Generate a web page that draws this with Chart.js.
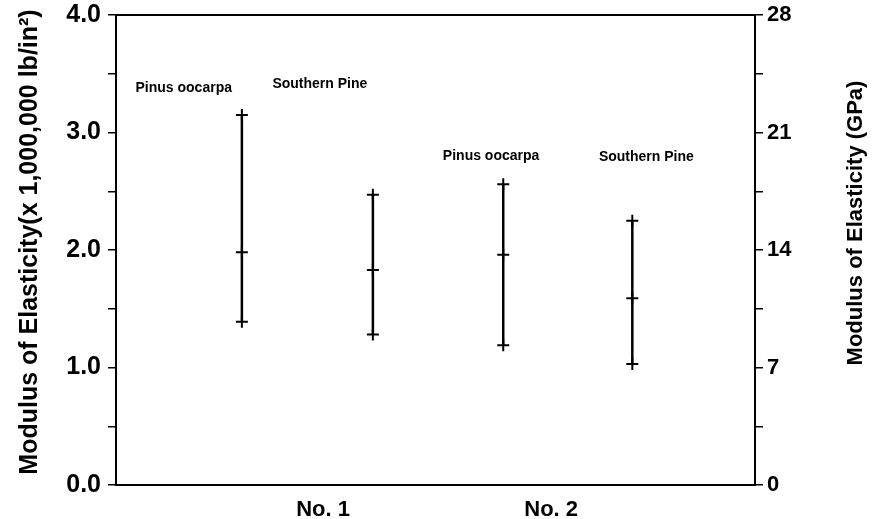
<!DOCTYPE html>
<html>
<head>
<meta charset="utf-8">
<script src="https://cdn.jsdelivr.net/npm/chart.js@4.4.1/dist/chart.umd.min.js"></script>
<style>
  html, body { margin: 0; padding: 0; background: #fff; }
  #wrap { width: 888px; height: 519px; }
</style>
</head>
<body>
<div id="wrap"><canvas id="moeCanvas" width="888" height="519"></canvas></div>
<script>
// values (left axis, x 1,000,000 lb/in^2)
const barX = [1.97, 4.02, 6.06, 8.08];
const barHigh = [3.15, 2.47, 2.56, 2.25];
const barMid = [1.98, 1.83, 1.96, 1.59];
const barLow = [1.39, 1.28, 1.19, 1.03];

const speciesNames = ["Pinus oocarpa", "Southern Pine", "Pinus oocarpa", "Southern Pine"];
const nameX = [1.06, 3.19, 5.87, 8.30];
const nameY = [3.38, 3.41, 2.80, 2.79];

const gradeLabels = ["No. 1", "No. 2"];
const gradeX = [3.24, 6.81];

const leftTitle = "Modulus of Elasticity(x 1,000,000 lb/in\u00B2)";
const rightTitle = "Modulus of Elasticity (GPa)";

const FONT = "'Liberation Sans', Arial, Helvetica, sans-serif";

const datasets = barX.map((x, i) => ({
    type: "line",
    data: [
        { x: x, y: barLow[i] },
        { x: x, y: barMid[i] },
        { x: x, y: barHigh[i] },
    ],
    showLine: true,
    borderColor: "#000",
    borderWidth: 2.5,
    pointStyle: "cross",
    pointRadius: 6,
    pointBorderWidth: 2,
    pointBorderColor: "#000",
    pointBackgroundColor: "#000",
    yAxisID: "y",
}));

// text and frame drawn on top of the chart
const decorPlugin = {
    id: "decor",
    afterDraw(chart) {
        const c = chart.ctx;
        const area = chart.chartArea;
        const xs = chart.scales.x;
        const ys = chart.scales.y;

        c.save();
        c.strokeStyle = "#000";
        c.lineWidth = 2;
        c.beginPath();
        c.moveTo(area.left, area.top);
        c.lineTo(area.right, area.top);
        c.stroke();

        c.fillStyle = "#000";
        c.font = "bold 14px " + FONT;
        c.textAlign = "center";
        c.textBaseline = "middle";
        speciesNames.forEach((name, i) => {
            c.fillText(name, xs.getPixelForValue(nameX[i]), ys.getPixelForValue(nameY[i]));
        });

        c.font = "bold 25px " + FONT;
        c.translate(30, 242);
        c.rotate(-Math.PI / 2);
        c.fillText(leftTitle, 0, 0);
        c.restore();

        c.save();
        c.fillStyle = "#000";
        c.font = "bold 22px " + FONT;
        c.textAlign = "center";
        c.textBaseline = "middle";
        c.translate(856, 223);
        c.rotate(-Math.PI / 2);
        c.fillText(rightTitle, 0, 0);
        c.restore();
    },
};

function fixSide(width) {
    return (scale) => {
        scale.width = width;
        scale.paddingTop = 15;
        scale.paddingBottom = 0;
    };
}

const ctx = document.getElementById("moeCanvas").getContext("2d");
const moeChart = new Chart(ctx, {
    data: { datasets: datasets },
    plugins: [decorPlugin],
    options: {
        responsive: false,
        animation: false,
        layout: { padding: 0 },
        plugins: {
            legend: { display: false },
            tooltip: { enabled: false },
        },
        scales: {
            x: {
                type: "linear",
                min: 0,
                max: 10,
                afterBuildTicks: (scale) => {
                    scale.ticks = gradeX.map((v) => ({ value: v }));
                },
                afterFit: (scale) => {
                    scale.height = 34;
                    scale.paddingLeft = 0;
                    scale.paddingRight = 0;
                },
                grid: { display: false },
                border: { color: "#000", width: 2 },
                ticks: {
                    autoSkip: false,
                    maxRotation: 0,
                    padding: 4,
                    color: "#000",
                    font: { family: FONT, size: 22, weight: "bold" },
                    callback: (v, i) => gradeLabels[i],
                },
            },
            y: {
                type: "linear",
                position: "left",
                min: 0,
                max: 4,
                afterFit: fixSide(116),
                border: { color: "#000", width: 2 },
                grid: {
                    drawOnChartArea: false,
                    drawTicks: true,
                    tickLength: 8,
                    color: "#000",
                    lineWidth: 1.5,
                },
                ticks: {
                    stepSize: 0.5,
                    padding: 7,
                    color: "#000",
                    font: { family: FONT, size: 25, weight: "bold" },
                    callback: (v) => (v % 1 === 0 ? v.toFixed(1) : ""),
                },
            },
            y2: {
                type: "linear",
                position: "right",
                min: 0,
                max: 28,
                afterFit: fixSide(133),
                border: { color: "#000", width: 2 },
                grid: {
                    drawOnChartArea: false,
                    drawTicks: true,
                    tickLength: 8,
                    color: "#000",
                    lineWidth: 1.5,
                },
                ticks: {
                    stepSize: 3.5,
                    padding: 4,
                    color: "#000",
                    font: { family: FONT, size: 22, weight: "bold" },
                    callback: (v) => (v % 7 === 0 ? v : ""),
                },
            },
        },
    },
});
</script>
</body>
</html>
